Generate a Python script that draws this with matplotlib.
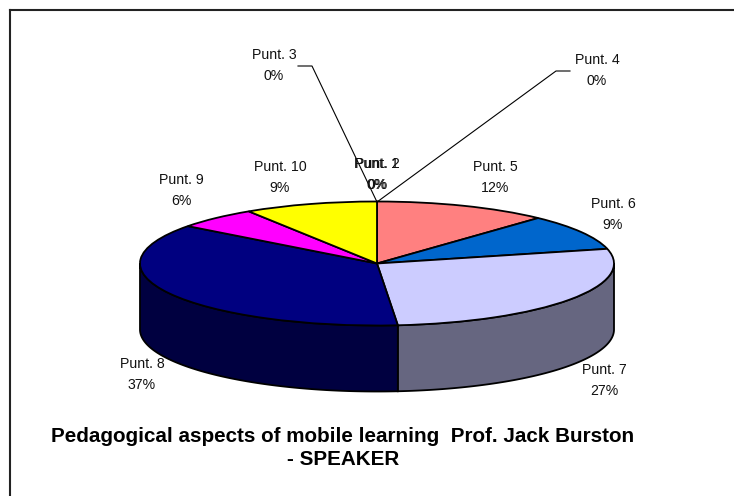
import numpy as np
import matplotlib
matplotlib.use("Agg")
import matplotlib.pyplot as plt
from matplotlib.lines import Line2D

plt.rcParams['font.family'] = ['Liberation Sans', 'DejaVu Sans']

categories = ["Punt. 1", "Punt. 2", "Punt. 3", "Punt. 4", "Punt. 5",
              "Punt. 6", "Punt. 7", "Punt. 8", "Punt. 9", "Punt. 10"]
values = [0, 0, 0, 0, 11.9, 9.3, 27.4, 36.7, 5.6, 9.1]
colors = ["#9999FF", "#993366", "#FFFFCC", "#CCFFFF", "#FF8080",
          "#0066CC", "#CCCCFF", "#000080", "#FF00FF", "#FFFF00"]
side_colors = ["#4D4D80", "#4D1A33", "#808066", "#668080", "#804040",
               "#003366", "#666680", "#000040", "#800080", "#808000"]
title = "Pedagogical aspects of mobile learning  Prof. Jack Burston\n- SPEAKER"

W, H = 734, 496
CX, CY, RX, RY, DEPTH = 377, 263.5, 237, 62, 66
label_px = {"Punt. 1": (376.5, 164), "Punt. 2": (377.5, 164), "Punt. 3": (274, 55),
            "Punt. 4": (597, 60), "Punt. 5": (495, 167), "Punt. 6": (613, 204),
            "Punt. 7": (604, 370), "Punt. 8": (142, 364), "Punt. 9": (181, 180),
            "Punt. 10": (280, 167)}
pct_dy = 21

fig = plt.figure(figsize=(W / 100, H / 100), dpi=100, facecolor="white")
ax = fig.add_axes([0, 0, 1, 1])

ax.pie(values, colors=colors, startangle=90, counterclock=False, radius=1,
       wedgeprops=dict(edgecolor="black", linewidth=1.3, zorder=5))
# squash the round pie into the tilted ellipse: 1 unit = RX px across, RY px down
ax.set_aspect("auto")
ax.set_xlim(-CX / RX, (W - CX) / RX)
ax.set_ylim((CY - H) / RY, CY / RY)
ax.set_axis_off()

# extruded rim of the front half
d = DEPTH / RY
cum = np.cumsum([0] + values) / sum(values) * 2 * np.pi
for i in range(len(values)):
    a0 = max(cum[i], np.pi / 2)
    a1 = min(cum[i + 1], 3 * np.pi / 2)
    if a1 <= a0:
        continue
    t = np.linspace(a0, a1, 120)
    x, y = np.sin(t), np.cos(t)
    ax.fill(np.r_[x, x[::-1]], np.r_[y, (y - d)[::-1]], facecolor=side_colors[i],
            edgecolor="black", linewidth=1.3, zorder=3)


def px(xp, yp):
    return (xp - CX) / RX, (CY - yp) / RY


for name, val in zip(categories, values):
    xp, yp = label_px[name]
    ax.text(*px(xp, yp), name, ha="center", va="center", fontsize=10.2, color="#111111", zorder=8)
    ax.text(*px(xp, yp + pct_dy), f"{val:.0f}%", ha="center", va="center", fontsize=10.2,
            color="#111111", zorder=8)

# leader lines of the two empty slices
for pts in ([(298, 66), (312, 66), (377, 202)], [(570, 71), (556, 71), (377, 202)]):
    lx, ly = zip(*[px(*p) for p in pts])
    ax.plot(lx, ly, color="black", linewidth=0.8, zorder=7)

ax.text(*px(343, 448), title, ha="center", va="center", fontsize=14.9, fontweight="bold",
        color="black", linespacing=1.25, zorder=8)

# chart frame: only the top and left edges are inside the picture
for xs, ys in (([10, W], [10, 10]), ([10, 10], [10, H])):
    fig.add_artist(Line2D(np.array(xs) / W, 1 - np.array(ys) / H, color="#222222", linewidth=1.5))
fig.savefig("out.png", dpi=100)
